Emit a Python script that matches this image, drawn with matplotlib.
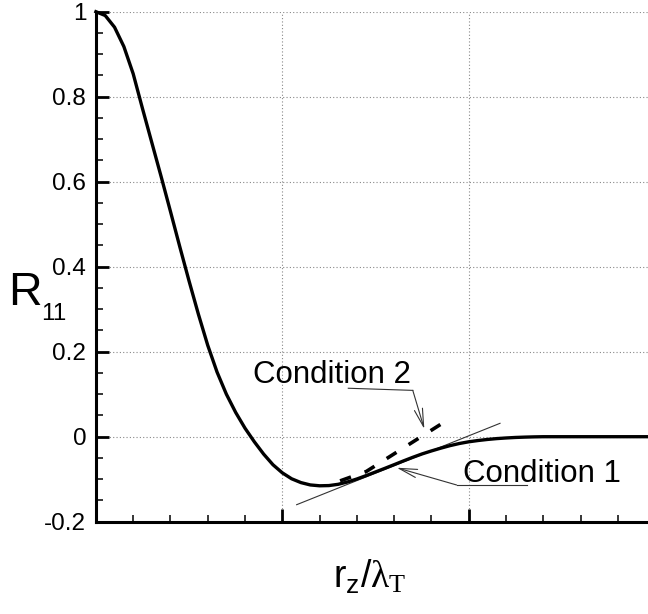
import matplotlib
matplotlib.use('Agg')
import matplotlib.pyplot as plt
from matplotlib.ticker import MultipleLocator, FuncFormatter

plt.rcParams['font.family'] = ['Liberation Sans', 'DejaVu Sans']
plt.rcParams['mathtext.fontset'] = 'custom'
plt.rcParams['mathtext.rm'] = 'Liberation Serif'

# correlation curve
r_z = [0.00, 0.05, 0.10, 0.15, 0.20, 0.25, 0.30, 0.35, 0.40, 0.45, 0.50, 0.55,
       0.60, 0.65, 0.70, 0.75, 0.80, 0.85, 0.90, 0.95, 1.00, 1.05, 1.10, 1.15,
       1.20, 1.25, 1.30, 1.35, 1.40, 1.45, 1.50, 1.55, 1.60, 1.65, 1.70, 1.75,
       1.80, 1.85, 1.90, 1.95, 2.00, 2.05, 2.10, 2.15, 2.20, 2.25, 2.30, 2.35,
       2.40, 2.96]
r11 = [1.000, 0.991, 0.9635, 0.918, 0.854, 0.772, 0.692, 0.612, 0.530, 0.447, 0.366, 0.288,
       0.215, 0.152, 0.100, 0.057, 0.020, -0.012, -0.041, -0.066, -0.085, -0.099, -0.108, -0.1135,
       -0.1155, -0.115, -0.112, -0.1065, -0.0995, -0.0915, -0.083, -0.0745, -0.0658, -0.057, -0.0485, -0.0405,
       -0.0335, -0.027, -0.021, -0.016, -0.012, -0.009, -0.0065, -0.0045, -0.003, -0.0018, -0.001, -0.0004,
       0.0, 0.0]

# condition 1: thin tangent line, condition 2: dashed line
cond1_x = [1.077, 2.168]
cond1_y = [-0.160, 0.0315]
cond2_x = [1.31, 1.45, 1.86]
cond2_y = [-0.104, -0.082, 0.032]

W, H = 648, 614
fig = plt.figure(figsize=(W / 100, H / 100), dpi=100)
ax = fig.add_axes([95.9 / W, 92.3 / H, (W - 95.9) / W, 510 / H])

ax.plot(r_z, r11, color='black', lw=2.4, clip_on=False, zorder=5,
        solid_joinstyle='round')
ax.plot(cond1_x, cond1_y, color='#333333', lw=0.8, zorder=4)
l2, = ax.plot(cond2_x, cond2_y, color='black', lw=2.6, zorder=4)
l2.set_dashes((3.2, 4))

ax.set_xlim(0, (W - 95.9) / 186.4)
ax.set_ylim(-0.2, 1.0)

ax.xaxis.set_major_locator(MultipleLocator(1))
ax.xaxis.set_minor_locator(MultipleLocator(0.2))
ax.yaxis.set_major_locator(MultipleLocator(0.2))
ax.yaxis.set_minor_locator(MultipleLocator(0.05))
ax.yaxis.set_major_formatter(FuncFormatter(lambda v, p: '%g' % round(v, 2) if abs(v) > 1e-9 else '0'))

ax.tick_params(which='both', direction='in', top=False, right=False, color='black')
ax.tick_params(which='major', length=9.5, width=2)
ax.tick_params(which='minor', length=5, width=1.1)
ax.tick_params(axis='x', labelbottom=False)
ax.tick_params(axis='y', labelsize=17.5, pad=7)

for s in ['top', 'right']:
    ax.spines[s].set_visible(False)
for s in ['left', 'bottom']:
    ax.spines[s].set_linewidth(2.2)

ax.set_axisbelow(True)
ax.grid(which='major', color='#888888', lw=0.8, linestyle=(0, (1, 2)))

# annotations
arrow = dict(arrowstyle='->,head_length=1.3,head_width=0.3', color='#333333',
             lw=0.8, shrinkA=0, shrinkB=0, mutation_scale=10)

ax.text(1.269, 0.127, 'Condition 2', ha='center', va='baseline', fontsize=22.5)
ax.plot([1.354, 1.700], [0.114, 0.109], color='#333333', lw=0.8)
ax.annotate('', xy=(1.762, 0.018), xytext=(1.700, 0.109), arrowprops=arrow)

ax.text(2.392, -0.106, 'Condition 1', ha='center', va='baseline', fontsize=22.5)
ax.plot([2.314, 1.935], [-0.1136, -0.1136], color='#333333', lw=0.8)
ax.annotate('', xy=(1.614, -0.073), xytext=(1.935, -0.1136), arrowprops=arrow)

# axis titles
fig.text(8 / W, (H - 305) / H, 'R', fontsize=33.5, ha='left', va='baseline')
fig.text(41 / W, (H - 320) / H, '11', fontsize=17.5, ha='left', va='baseline')
fig.text(370 / W, (H - 588) / H, r'$\mathregular{r_z/}\mathrm{\lambda_T}$',
         fontsize=27, ha='center', va='baseline')

fig.savefig('out.png', dpi=100)
